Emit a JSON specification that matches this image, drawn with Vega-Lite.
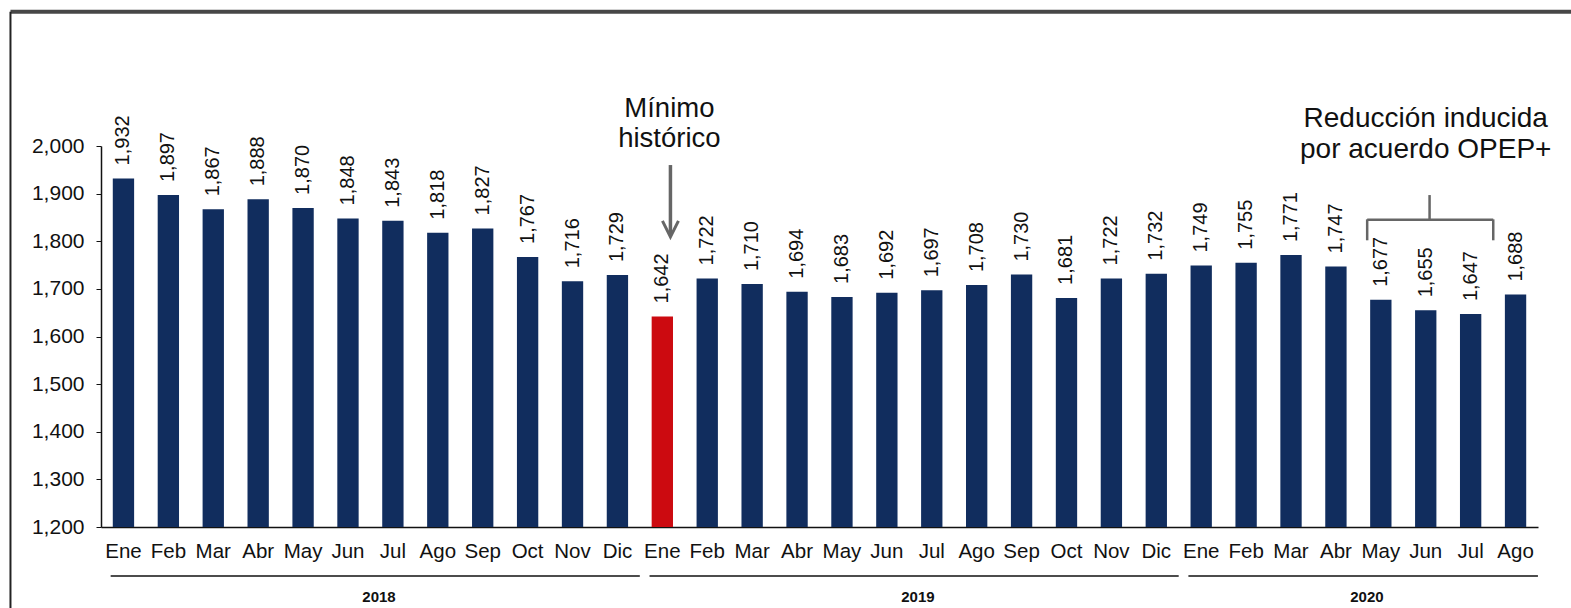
{
  "$schema": "https://vega.github.io/schema/vega-lite/v6.json",
  "autosize": {"type": "none"},
  "width": 1437,
  "height": 381,
  "padding": {"left": 101, "top": 146, "right": 33, "bottom": 81},
  "background": "white",
  "config": {
    "view": {"stroke": null},
    "font": "Liberation Sans",
    "text": {"font": "Liberation Sans"}
  },
  "datasets": {
    "produccion": [
      {"id": "Ene 2018", "valor": 1932, "tipo": "normal"},
      {"id": "Feb 2018", "valor": 1897, "tipo": "normal"},
      {"id": "Mar 2018", "valor": 1867, "tipo": "normal"},
      {"id": "Abr 2018", "valor": 1888, "tipo": "normal"},
      {"id": "May 2018", "valor": 1870, "tipo": "normal"},
      {"id": "Jun 2018", "valor": 1848, "tipo": "normal"},
      {"id": "Jul 2018", "valor": 1843, "tipo": "normal"},
      {"id": "Ago 2018", "valor": 1818, "tipo": "normal"},
      {"id": "Sep 2018", "valor": 1827, "tipo": "normal"},
      {"id": "Oct 2018", "valor": 1767, "tipo": "normal"},
      {"id": "Nov 2018", "valor": 1716, "tipo": "normal"},
      {"id": "Dic 2018", "valor": 1729, "tipo": "normal"},
      {"id": "Ene 2019", "valor": 1642, "tipo": "minimo"},
      {"id": "Feb 2019", "valor": 1722, "tipo": "normal"},
      {"id": "Mar 2019", "valor": 1710, "tipo": "normal"},
      {"id": "Abr 2019", "valor": 1694, "tipo": "normal"},
      {"id": "May 2019", "valor": 1683, "tipo": "normal"},
      {"id": "Jun 2019", "valor": 1692, "tipo": "normal"},
      {"id": "Jul 2019", "valor": 1697, "tipo": "normal"},
      {"id": "Ago 2019", "valor": 1708, "tipo": "normal"},
      {"id": "Sep 2019", "valor": 1730, "tipo": "normal"},
      {"id": "Oct 2019", "valor": 1681, "tipo": "normal"},
      {"id": "Nov 2019", "valor": 1722, "tipo": "normal"},
      {"id": "Dic 2019", "valor": 1732, "tipo": "normal"},
      {"id": "Ene 2020", "valor": 1749, "tipo": "normal"},
      {"id": "Feb 2020", "valor": 1755, "tipo": "normal"},
      {"id": "Mar 2020", "valor": 1771, "tipo": "normal"},
      {"id": "Abr 2020", "valor": 1747, "tipo": "normal"},
      {"id": "May 2020", "valor": 1677, "tipo": "normal"},
      {"id": "Jun 2020", "valor": 1655, "tipo": "normal"},
      {"id": "Jul 2020", "valor": 1647, "tipo": "normal"},
      {"id": "Ago 2020", "valor": 1688, "tipo": "normal"}
    ],
    "anios": [
      {"anio": "2018", "desde": "Ene 2018", "hasta": "Dic 2018", "centro": "Jul 2018"},
      {"anio": "2019", "desde": "Ene 2019", "hasta": "Dic 2019", "centro": "Jul 2019"},
      {"anio": "2020", "desde": "Ene 2020", "hasta": "Ago 2020", "centro": "May 2020"}
    ],
    "llave": [
      {"desde": "May 2020", "medio": "Jun 2020", "hasta": "Jul 2020"}
    ]
  },
  "layer": [
    {
      "layer": [
        {
          "data": {"name": "produccion"},
          "mark": {"type": "bar"},
          "encoding": {
            "x": {
              "field": "id",
              "type": "nominal",
              "scale": {
                "domain": ["Ene 2018","Feb 2018","Mar 2018","Abr 2018","May 2018","Jun 2018","Jul 2018","Ago 2018","Sep 2018","Oct 2018","Nov 2018","Dic 2018","Ene 2019","Feb 2019","Mar 2019","Abr 2019","May 2019","Jun 2019","Jul 2019","Ago 2019","Sep 2019","Oct 2019","Nov 2019","Dic 2019","Ene 2020","Feb 2020","Mar 2020","Abr 2020","May 2020","Jun 2020","Jul 2020","Ago 2020"],
                "paddingInner": 0.525,
                "paddingOuter": 0.2625
              },
              "axis": {
                "title": null,
                "labelExpr": "split(datum.label, ' ')[0]",
                "labelAngle": 0,
                "labelFontSize": 20.5,
                "labelColor": "#111111",
                "labelFont": "Liberation Sans",
                "labelPadding": 14,
                "labelOverlap": false,
                "ticks": false,
                "domainColor": "#111111",
                "domainWidth": 1.5,
                "grid": false
              }
            },
            "y": {
              "field": "valor",
              "type": "quantitative",
              "scale": {"domain": [1200, 2000], "zero": false, "nice": false},
              "axis": {
                "title": null,
                "values": [1200, 1300, 1400, 1500, 1600, 1700, 1800, 1900, 2000],
                "format": ",d",
                "labelFontSize": 21,
                "labelColor": "#111111",
                "labelFont": "Liberation Sans",
                "labelPadding": 12,
                "tickSize": 5,
                "tickColor": "#111111",
                "domainColor": "#111111",
                "domainWidth": 1.5,
                "grid": false
              }
            },
            "y2": {"datum": 1200},
            "color": {
              "field": "tipo",
              "type": "nominal",
              "scale": {"domain": ["normal", "minimo"], "range": ["#112d5e", "#cc0a10"]},
              "legend": null
            }
          }
        },
        {
          "data": {"name": "produccion"},
          "mark": {"type": "text", "angle": 270, "align": "left", "baseline": "middle", "dx": 13, "fontSize": 20, "color": "#111111"},
          "encoding": {
            "x": {"field": "id", "type": "nominal"},
            "y": {"field": "valor", "type": "quantitative"},
            "text": {"field": "valor", "type": "quantitative", "format": ",d"}
          }
        },
        {
          "data": {"name": "anios"},
          "mark": {"type": "rule", "color": "#111111", "strokeWidth": 1.5},
          "encoding": {
            "x": {"field": "desde", "type": "nominal", "bandPosition": -0.1},
            "x2": {"field": "hasta", "bandPosition": 1.55},
            "y": {"datum": 1097}
          }
        },
        {
          "data": {"name": "anios"},
          "mark": {"type": "text", "baseline": "middle", "align": "center", "fontSize": 15, "fontWeight": "bold", "color": "#111111"},
          "encoding": {
            "x": {"field": "centro", "type": "nominal", "bandPosition": -0.15},
            "y": {"datum": 1053},
            "text": {"field": "anio", "type": "nominal"}
          }
        },
        {
          "data": {"values": [{"nota": "Mínimo\nhistórico", "mes": "Ene 2019"}]},
          "mark": {"type": "text", "align": "center", "baseline": "alphabetic", "fontSize": 27.5, "lineBreak": "\n", "lineHeight": 29.5, "color": "#111111"},
          "encoding": {
            "x": {"field": "mes", "type": "nominal", "bandPosition": 0.83},
            "y": {"datum": 2060},
            "text": {"field": "nota", "type": "nominal"}
          }
        },
        {
          "data": {"values": [{"nota": "Reducción inducida\npor acuerdo OPEP+", "mes": "Jun 2020"}]},
          "mark": {"type": "text", "align": "center", "baseline": "alphabetic", "fontSize": 28, "lineBreak": "\n", "lineHeight": 30.6, "color": "#111111"},
          "encoding": {
            "x": {"field": "mes", "type": "nominal", "bandPosition": 0.5},
            "y": {"datum": 2040},
            "text": {"field": "nota", "type": "nominal"}
          }
        },
        {
          "data": {"values": [{"mes": "Ene 2019"}]},
          "mark": {"type": "rule", "color": "#666666", "strokeWidth": 3.5},
          "encoding": {
            "x": {"field": "mes", "type": "nominal", "bandPosition": 0.88},
            "y": {"datum": 1960},
            "y2": {"datum": 1814}
          }
        },
        {
          "data": {"values": [{"mes": "Ene 2019"}]},
          "mark": {"type": "point", "shape": "M-1,-1L0,1L1,-1", "filled": false, "size": 256, "strokeWidth": 3, "color": "#666666", "opacity": 1},
          "encoding": {
            "x": {"field": "mes", "type": "nominal", "bandPosition": 0.88},
            "y": {"datum": 1826}
          }
        },
        {
          "data": {"name": "llave"},
          "mark": {"type": "rule", "color": "#666666", "strokeWidth": 2.5},
          "encoding": {
            "x": {"field": "desde", "type": "nominal", "bandPosition": -0.14},
            "x2": {"field": "hasta", "bandPosition": 1.56},
            "y": {"datum": 1845}
          }
        },
        {
          "data": {"name": "llave"},
          "mark": {"type": "rule", "color": "#666666", "strokeWidth": 2.5},
          "encoding": {
            "x": {"field": "desde", "type": "nominal", "bandPosition": -0.14},
            "y": {"datum": 1846},
            "y2": {"datum": 1802}
          }
        },
        {
          "data": {"name": "llave"},
          "mark": {"type": "rule", "color": "#666666", "strokeWidth": 2.5},
          "encoding": {
            "x": {"field": "hasta", "type": "nominal", "bandPosition": 1.56},
            "y": {"datum": 1846},
            "y2": {"datum": 1802}
          }
        },
        {
          "data": {"name": "llave"},
          "mark": {"type": "rule", "color": "#666666", "strokeWidth": 2.5},
          "encoding": {
            "x": {"field": "medio", "type": "nominal", "bandPosition": 0.68},
            "y": {"datum": 1845},
            "y2": {"datum": 1897}
          }
        }
      ]
    },
    {
      "layer": [
        {
          "data": {"values": [{"borde": "superior"}]},
          "mark": {"type": "rule", "color": "#474747", "strokeWidth": 4},
          "encoding": {
            "x": {"datum": -0.063, "type": "quantitative", "scale": {"domain": [0, 1], "zero": false, "nice": false}, "axis": null},
            "x2": {"datum": 1.05},
            "y": {"datum": 2282}
          }
        },
        {
          "data": {"values": [{"borde": "izquierdo"}]},
          "mark": {"type": "rule", "color": "#222222", "strokeWidth": 2},
          "encoding": {
            "x": {"datum": -0.063, "type": "quantitative"},
            "y": {"datum": 2282},
            "y2": {"datum": 1000}
          }
        }
      ]
    }
  ],
  "resolve": {"scale": {"x": "independent"}}
}
